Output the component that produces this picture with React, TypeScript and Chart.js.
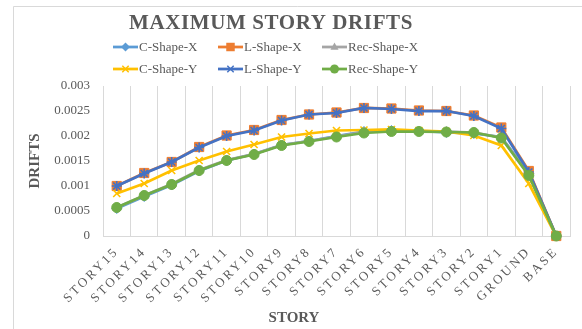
import React, { useEffect, useRef } from 'react';
import { Chart, registerables } from 'chart.js';

Chart.register(...registerables);

const categories = [
  'STORY15', 'STORY14', 'STORY13', 'STORY12', 'STORY11', 'STORY10', 'STORY9', 'STORY8',
  'STORY7', 'STORY6', 'STORY5', 'STORY4', 'STORY3', 'STORY2', 'STORY1', 'GROUND', 'BASE',
];

const cShapeX = [0.00055, 0.00079, 0.00102, 0.00130, 0.00151, 0.00164, 0.00182, 0.00190, 0.00200, 0.00209, 0.00211, 0.00210, 0.00207, 0.00205, 0.00198, 0.00125, 0];
const lShapeX = [0.00100, 0.00126, 0.00148, 0.00178, 0.00201, 0.00212, 0.00232, 0.00243, 0.00247, 0.00256, 0.00255, 0.00251, 0.00250, 0.00241, 0.00217, 0.00130, 0];
const recShapeX = [0.00057, 0.00081, 0.00104, 0.00132, 0.00152, 0.00164, 0.00182, 0.00190, 0.00199, 0.00208, 0.00210, 0.00210, 0.00209, 0.00207, 0.00197, 0.00123, 0];
const cShapeY = [0.00085, 0.00105, 0.00131, 0.00151, 0.00169, 0.00183, 0.00198, 0.00205, 0.00211, 0.00212, 0.00213, 0.00211, 0.00209, 0.00201, 0.00181, 0.00105, 0];
const lShapeY = [0.00100, 0.00125, 0.00148, 0.00177, 0.00200, 0.00211, 0.00231, 0.00243, 0.00246, 0.00256, 0.00254, 0.00250, 0.00250, 0.00240, 0.00215, 0.00128, 0];
const recShapeY = [0.00057, 0.00081, 0.00103, 0.00131, 0.00151, 0.00163, 0.00181, 0.00189, 0.00198, 0.00206, 0.00209, 0.00209, 0.00208, 0.00207, 0.00196, 0.00121, 0];

const yMin = 0;
const yMax = 0.003;
const yStep = 0.0005;

const TEXT = '#595959';
const GRID = '#d9d9d9';
const SERIF = '"Liberation Serif", "Times New Roman", serif';

type Series = { label: string; data: number[]; color: string; style: string; radius: number };

const series: Series[] = [
  { label: 'C-Shape-X', data: cShapeX, color: '#5B9BD5', style: 'rectRot', radius: 5 },
  { label: 'L-Shape-X', data: lShapeX, color: '#ED7D31', style: 'rect', radius: 6.5 },
  { label: 'Rec-Shape-X', data: recShapeX, color: '#A5A5A5', style: 'triangle', radius: 5 },
  { label: 'C-Shape-Y', data: cShapeY, color: '#FFC000', style: 'crossRot', radius: 5 },
  { label: 'L-Shape-Y', data: lShapeY, color: '#4472C4', style: 'star', radius: 5 },
  { label: 'Rec-Shape-Y', data: recShapeY, color: '#70AD47', style: 'circle', radius: 5 },
];

function marker(ctx: CanvasRenderingContext2D, style: string, x: number, y: number, r: number, color: string) {
  ctx.save();
  ctx.fillStyle = color;
  ctx.strokeStyle = color;
  ctx.lineWidth = 1.5;
  ctx.beginPath();
  if (style === 'circle') {
    ctx.arc(x, y, r, 0, Math.PI * 2);
    ctx.fill();
  } else if (style === 'rect') {
    const s = r * Math.SQRT1_2;
    ctx.rect(x - s, y - s, 2 * s, 2 * s);
    ctx.fill();
  } else if (style === 'rectRot') {
    ctx.moveTo(x, y - r);
    ctx.lineTo(x + r, y);
    ctx.lineTo(x, y + r);
    ctx.lineTo(x - r, y);
    ctx.closePath();
    ctx.fill();
  } else if (style === 'triangle') {
    ctx.moveTo(x, y - r);
    ctx.lineTo(x + r * 0.9, y + r * 0.6);
    ctx.lineTo(x - r * 0.9, y + r * 0.6);
    ctx.closePath();
    ctx.fill();
  } else if (style === 'crossRot') {
    const s = r * Math.SQRT1_2;
    ctx.moveTo(x - s, y - s);
    ctx.lineTo(x + s, y + s);
    ctx.moveTo(x + s, y - s);
    ctx.lineTo(x - s, y + s);
    ctx.stroke();
  } else if (style === 'star') {
    const s = r * Math.SQRT1_2;
    ctx.moveTo(x - s, y - s);
    ctx.lineTo(x + s, y + s);
    ctx.moveTo(x + s, y - s);
    ctx.lineTo(x - s, y + s);
    ctx.moveTo(x - r, y);
    ctx.lineTo(x + r, y);
    ctx.stroke();
  }
  ctx.restore();
}

const decorations = {
  id: 'decorations',
  beforeDraw(chart: any) {
    const ctx: CanvasRenderingContext2D = chart.ctx;
    ctx.save();
    ctx.fillStyle = '#ffffff';
    ctx.fillRect(0, 0, chart.width, chart.height);
    ctx.strokeStyle = GRID;
    ctx.lineWidth = 1;
    ctx.beginPath();
    ctx.moveTo(13.5, chart.height);
    ctx.lineTo(13.5, 6.5);
    ctx.lineTo(chart.width, 6.5);
    ctx.stroke();
    ctx.restore();
  },
  afterDraw(chart: any) {
    const ctx: CanvasRenderingContext2D = chart.ctx;
    ctx.save();
    // chart title
    ctx.fillStyle = TEXT;
    ctx.textAlign = 'center';
    ctx.textBaseline = 'middle';
    ctx.font = `bold 21px ${SERIF}`;
    (ctx as any).letterSpacing = '0.6px';
    ctx.fillText('MAXIMUM STORY DRIFTS', 271, 24);
    (ctx as any).letterSpacing = '0px';

    // legend: three columns, two rows
    const colX = [113, 218, 322];
    const rowY = [47, 69];
    ctx.font = `13px ${SERIF}`;
    ctx.textAlign = 'left';
    series.forEach((s, i) => {
      const x0 = colX[i % 3];
      const y0 = rowY[Math.floor(i / 3)];
      ctx.strokeStyle = s.color;
      ctx.lineWidth = 2.75;
      ctx.beginPath();
      ctx.moveTo(x0, y0);
      ctx.lineTo(x0 + 25, y0);
      ctx.stroke();
      marker(ctx, s.style, x0 + 12.5, y0, s.style === 'rect' ? 6 : 4.5, s.color);
      ctx.fillStyle = TEXT;
      ctx.fillText(s.label, x0 + 26, y0 + 1);
    });

    // x axis title
    ctx.font = `bold 15px ${SERIF}`;
    ctx.textAlign = 'center';
    ctx.fillText('STORY', 294, 318);
    ctx.restore();
  },
};

export default function App() {
  const canvasRef = useRef<HTMLCanvasElement | null>(null);

  useEffect(() => {
    const canvas = canvasRef.current;
    if (!canvas) return;
    const chart = new Chart(canvas, {
      type: 'line',
      data: {
        labels: categories,
        datasets: series.map((s, i) => ({
          label: s.label,
          data: s.data,
          borderColor: s.color,
          backgroundColor: s.color,
          borderWidth: 2.75,
          pointStyle: s.style as any,
          pointRadius: s.radius,
          pointBackgroundColor: s.color,
          pointBorderColor: s.color,
          pointBorderWidth: s.style === 'crossRot' || s.style === 'star' ? 1.6 : 1,
          tension: 0,
          fill: false,
          clip: false as any,
          order: series.length - 1 - i,
        })),
      },
      options: {
        responsive: false,
        animation: false,
        events: [],
        layout: { padding: { top: 86, right: 12, bottom: 0, left: 0 } },
        plugins: {
          legend: { display: false },
          title: { display: false },
          tooltip: { enabled: false },
        },
        scales: {
          x: {
            offset: true,
            grid: { display: true, offset: true, color: GRID, lineWidth: 1, drawTicks: false },
            border: { display: true, color: GRID, width: 1 },
            ticks: {
              autoSkip: false,
              minRotation: 45,
              maxRotation: 45,
              padding: 8,
              color: TEXT,
              font: { family: SERIF, size: 13 },
            },
            afterFit: (s: any) => {
              s.height = 93;
            },
          },
          y: {
            min: yMin,
            max: yMax,
            grid: { display: false, drawTicks: false },
            border: { display: false },
            ticks: {
              stepSize: yStep,
              padding: 13,
              color: TEXT,
              font: { family: SERIF, size: 13 },
              callback: (v: any) => String(parseFloat(Number(v).toFixed(4))),
            },
            title: {
              display: true,
              text: 'DRIFTS',
              color: TEXT,
              font: { family: SERIF, size: 15, weight: 'bold' },
              padding: { top: 26, bottom: 0 },
            },
            afterFit: (s: any) => {
              s.width = 103;
            },
          },
        },
      },
      plugins: [decorations],
    });

    // wider letter spacing for the category labels only
    const xs: any = chart.scales.x;
    const drawLabels = xs.drawLabels.bind(xs);
    xs.drawLabels = (area: any) => {
      const c: any = chart.ctx;
      c.save();
      c.letterSpacing = '2.5px';
      drawLabels(area);
      c.restore();
    };
    chart.draw();

    return () => chart.destroy();
  }, []);

  return (
    <div style={{ position: 'fixed', left: 0, top: 0, width: 582, height: 329, background: '#fff' }}>
      <canvas ref={canvasRef} width={582} height={329} style={{ display: 'block' }} />
    </div>
  );
}
